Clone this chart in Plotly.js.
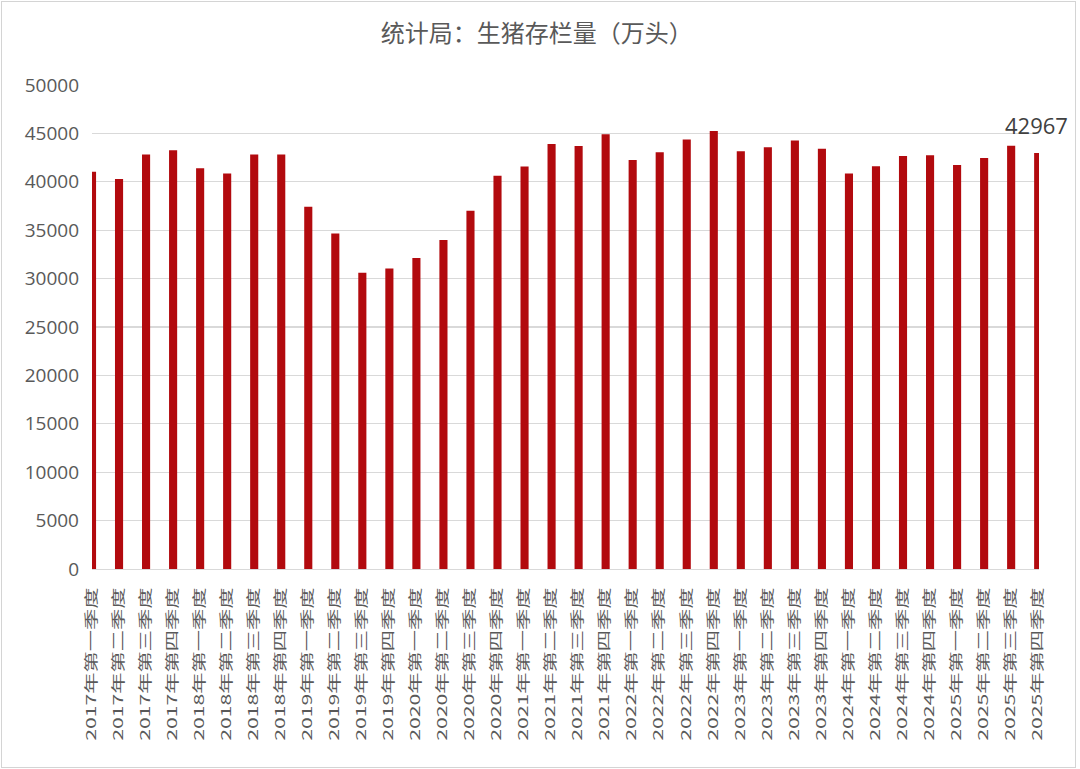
<!DOCTYPE html>
<html>
<head>
<meta charset="utf-8">
<script src="https://cdn.plot.ly/plotly-3.0.1.min.js"></script>
<style>
  html, body { margin: 0; padding: 0; background: #ffffff; }
  #chart { width: 1080px; height: 769px; }
  #frame { position: absolute; left: 1px; top: 1px; width: 1073px; height: 765px; border: 1.5px solid #d4d4d4; pointer-events: none; }
</style>
</head>
<body>
<div id="chart"></div>
<div id="frame"></div>
<script>
const years = ["2017","2018","2019","2020","2021","2022","2023","2024","2025"];
const quarters = ["第一季度","第二季度","第三季度","第四季度"];
const categories = [];
years.forEach(y => quarters.forEach(q => categories.push(y + "年" + q)));

const inventory = [
  41030, 40280, 42820, 43270,
  41410, 40860, 42820, 42817,
  37420, 34670, 30615, 31041,
  32120, 34000, 37020, 40620,
  41580, 43900, 43700, 44922,
  42250, 43040, 44380, 45256,
  43150, 43560, 44260, 43422,
  40850, 41600, 42660, 42743,
  41731, 42447, 43720, 42967
];

const titleText = "统计局：生猪存栏量（万头）";
const labelIndex = 35;
const labelText = "42967";

const trace = {
  type: "bar",
  x: categories,
  y: inventory,
  marker: { color: "#b20a0e" },
  hoverinfo: "x+y"
};

const layout = {
  width: 1080,
  height: 769,
  margin: { l: 92, r: 41, t: 85, b: 200 },
  paper_bgcolor: "#ffffff",
  plot_bgcolor: "#ffffff",
  bargap: 0.70,
  showlegend: false,
  title: {
    text: titleText,
    x: 0.497, xref: "container", xanchor: "center",
    y: 0.956, yref: "container", yanchor: "middle",
    font: { family: "Noto Sans CJK SC", size: 24, color: "#595959" }
  },
  xaxis: {
    type: "category",
    range: [0, 35.03],
    tickangle: -90,
    ticks: "",
    showgrid: false,
    showline: true,
    linecolor: "#d9d9d9",
    linewidth: 1.3,
    ticklabelstandoff: 10,
    tickfont: { family: "Noto Sans CJK SC", size: 18, color: "#595959" },
    automargin: false
  },
  yaxis: {
    range: [0, 50000],
    dtick: 5000,
    tick0: 0,
    tickformat: "d",
    ticks: "",
    showgrid: true,
    gridcolor: "#d9d9d9",
    gridwidth: 1.3,
    zeroline: false,
    showline: false,
    ticklabelstandoff: 12,
    tickfont: { family: "Open Sans", size: 19, color: "#595959" },
    automargin: false
  },
  annotations: [{
    x: categories[labelIndex],
    y: inventory[labelIndex],
    xref: "x", yref: "y",
    text: labelText,
    showarrow: false,
    xanchor: "center",
    yanchor: "middle",
    yshift: 28,
    xshift: -2,
    font: { family: "Open Sans", size: 22, color: "#404040" }
  }]
};

Plotly.newPlot("chart", [trace], layout, { displayModeBar: false, staticPlot: true }).then(function (gd) {
  // Stretch the rotated category labels (longer, thinner) like the reference's condensed text.
  const lenScale = 1.18, thickScale = 0.74;
  gd.querySelectorAll(".xtick text").forEach(function (t) {
    const bb = t.getBBox();
    const cx = bb.x + bb.width;
    const cy = bb.y + bb.height / 2;
    const tr = t.getAttribute("transform") || "";
    t.setAttribute("transform", tr + " translate(" + cx + "," + cy + ") scale(" + lenScale + "," + thickScale + ") translate(" + (-cx) + "," + (-cy) + ")");
  });
});
</script>
</body>
</html>
